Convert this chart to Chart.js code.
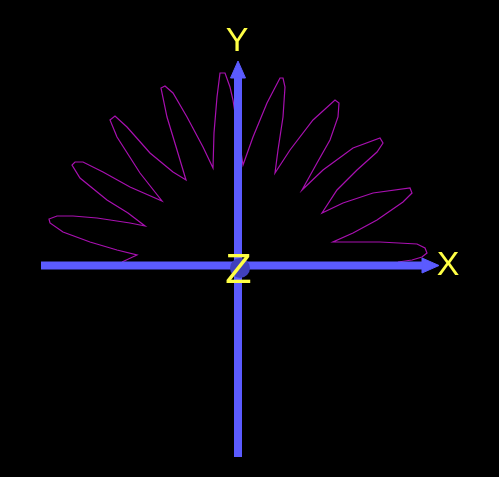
<!DOCTYPE html>
<html>
<head>
<meta charset="utf-8">
<script src="https://cdn.jsdelivr.net/npm/chart.js@4/dist/chart.umd.min.js"></script>
<style>
  html, body { margin: 0; padding: 0; background: #000; }
  #c { display: block; background: #000; }
</style>
</head>
<body>
<canvas id="c" width="499" height="477"></canvas>
<script>
// Polar "flower" curve (units: px offsets from origin)
const curveX = [160,174,184,189,187,179,142,109,95,115,139,165,174,172,135,105,84,99,119,139,145,142,115,85,64,79,92,100,101,97,75,52,37,40,45,47,45,42,29,15,5,-5,-8,-13,-18,-21,-24,-25,-35,-51,-65,-73,-77,-71,-61,-52,-65,-88,-111,-123,-128,-121,-98,-76,-108,-135,-155,-163,-166,-158,-131,-110,-93,-108,-141,-165,-181,-189,-188,-175,-148,-121,-101,-116];
const curveY = [3.5,5.5,8.5,12.5,17.5,21.5,23.5,23.5,23.5,32.5,45.5,63.5,72.5,77.5,72.5,62.5,52.5,75.5,95.5,113.5,122.5,127.5,117.5,95.5,75.5,102.5,125.5,148.5,162.5,165.5,145.5,115.5,92.5,115.5,148.5,178.5,187.5,187.5,162.5,128.5,100.5,165.5,178.5,192.5,192.5,168.5,132.5,97.5,118.5,148.5,172.5,179.5,177.5,148.5,115.5,85.5,93.5,112.5,138.5,149.5,145.5,128.5,92.5,64.5,78.5,93.5,103.5,103.5,100.5,87.5,65.5,52.5,39.5,42.5,47.5,49.5,49.5,46.5,42.5,33.5,23.5,15.5,10.5,3.5];

// Axes (shaft ends and arrow heads)
const xAxisShaft = [-197, 184];
const xAxisHead = [184, 201];
const yAxisShaft = [-191.5, 187.5];
const yAxisHead = [187.5, 204.5];
const headHalfWidth = 7.5;

// Axis labels
const axisLabels = ['X', 'Y', 'Z'];
const labelX = [210, -1, 0.5];
const labelY = [0.5, 224.5, -4];

const curvePts = curveX.map((x, i) => ({ x: x, y: curveY[i] }));

const AXIS = '#5b5bff';
const labelPlugin = {
  id: 'axisLabels',
  afterDatasetsDraw(chart) {
    const ctx = chart.ctx;
    const sx = chart.scales.x, sy = chart.scales.y;
    ctx.save();
    ctx.fillStyle = '#ffff45';
    ctx.textAlign = 'center';
    ctx.textBaseline = 'middle';
    axisLabels.forEach((t, i) => {
      const size = t === 'Z' ? 43 : 34;
      ctx.font = size + 'px "Liberation Sans", Arial, sans-serif';
      ctx.fillText(t, sx.getPixelForValue(labelX[i]), sy.getPixelForValue(labelY[i]) + size * 0.03);
    });
    ctx.restore();
  }
};

new Chart(document.getElementById('c'), {
  type: 'scatter',
  data: {
    datasets: [
      {
        label: 'origin',
        data: [{ x: 2, y: -2.5 }],
        pointRadius: 10,
        pointBackgroundColor: '#4040bc',
        pointBorderWidth: 0,
        showLine: false,
        order: 0
      },
      {
        label: 'x shaft',
        data: [{ x: xAxisShaft[0], y: 0 }, { x: xAxisShaft[1], y: 0 }],
        showLine: true, borderColor: AXIS, borderWidth: 8, borderCapStyle: 'butt',
        pointRadius: 0, order: 1
      },
      {
        label: 'x head',
        data: [{ x: xAxisHead[0], y: headHalfWidth }, { x: xAxisHead[1], y: 0 }, { x: xAxisHead[0], y: -headHalfWidth }, { x: xAxisHead[0], y: headHalfWidth }],
        showLine: true, borderColor: AXIS, backgroundColor: AXIS, borderWidth: 1, fill: 'shape',
        pointRadius: 0, order: 1
      },
      {
        label: 'y shaft',
        data: [{ x: 0, y: yAxisShaft[0] }, { x: 0, y: yAxisShaft[1] }],
        showLine: true, borderColor: AXIS, borderWidth: 8, borderCapStyle: 'butt',
        pointRadius: 0, order: 1
      },
      {
        label: 'y head',
        data: [{ x: -headHalfWidth, y: yAxisHead[0] }, { x: 0, y: yAxisHead[1] }, { x: headHalfWidth, y: yAxisHead[0] }, { x: -headHalfWidth, y: yAxisHead[0] }],
        showLine: true, borderColor: AXIS, backgroundColor: AXIS, borderWidth: 1, fill: 'shape',
        pointRadius: 0, order: 1
      },
      {
        label: 'curve',
        data: curvePts,
        showLine: true, borderColor: '#a810b0', borderWidth: 1.2,
        pointRadius: 0, tension: 0, fill: false, order: 2
      }
    ]
  },
  options: {
    responsive: false,
    animation: false,
    devicePixelRatio: 1,
    layout: { padding: 0, autoPadding: false },
    plugins: { legend: { display: false }, tooltip: { enabled: false } },
    scales: {
      x: { type: 'linear', min: -238, max: 261, display: false },
      y: { type: 'linear', min: -211.5, max: 265.5, display: false }
    }
  },
  plugins: [labelPlugin]
});
</script>
</body>
</html>
